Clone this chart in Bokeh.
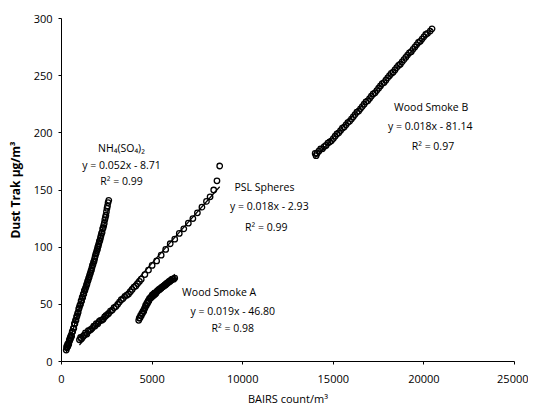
import numpy as np
from bokeh.plotting import figure
from bokeh.models import Range1d, Label, FixedTicker
from bokeh.embed import file_html
from bokeh.resources import INLINE

# ---- data ----
nh4_x = [260, 300, 350, 400, 450, 500, 560, 620, 680, 740, 800, 860, 920, 980, 1050, 1110, 1170,
         1230, 1290, 1350, 1410, 1470, 1530, 1590, 1650, 1710, 1770, 1830, 1890, 1950, 2000, 2060,
         2120, 2180, 2240, 2300, 2360, 2420, 2480, 2540, 2610,
         280, 330, 380, 430, 480, 530, 590, 650, 710, 770, 830, 890, 950, 1010, 1080, 1140, 1200,
         1260, 1320, 1380, 1440, 1500, 1560, 1620, 1680, 1740, 1800, 1860, 1920, 1980, 2030, 2090,
         2150, 2210, 2270, 2330, 2390, 2450, 2510, 2570]
nh4_y = [10, 12, 13, 15, 18, 20, 22, 26, 29, 33, 36, 40, 43, 47, 50, 53, 56,
         59, 62, 65, 68, 71, 74, 77, 80, 84, 87, 90, 94, 97, 100, 103,
         106, 110, 113, 117, 121, 126, 131, 136, 141,
         13, 15, 16, 19, 21, 23, 26, 29, 33, 36, 39, 42, 46, 49, 53, 56, 59,
         62, 64, 67, 70, 73, 76, 79, 82, 85, 88, 92, 95, 98, 101, 105,
         108, 112, 116, 119, 124, 128, 134, 139]

psl_x = [990, 1100, 1250, 1400, 1550, 1700, 1850, 2000, 2150, 2300, 2450, 2600, 2800, 3000, 3200,
         3400, 3600, 3800, 4000, 4200, 4400, 4600, 4800, 5000, 5250, 5500, 5750, 6000, 6250, 6500,
         6750, 7000, 7250, 7500, 7750, 8000, 8200, 8400, 8580, 8730,
         1050, 1180, 1320, 1480, 1620, 1780, 1920, 2080, 2230, 2380, 2530, 2700, 2900, 3100, 3300,
         3500, 3700, 3900, 4100, 4300]
psl_y = [19, 20, 23, 24, 27, 29, 31, 33, 36, 37, 40, 42, 45, 48, 52,
         55, 58, 61, 65, 68, 72, 76, 80, 84, 88, 93, 98, 103, 107, 112,
         116, 121, 125, 130, 135, 140, 144, 150, 158, 171,
         21, 22, 25, 27, 28, 31, 33, 35, 36, 39, 41, 44, 47, 50, 54,
         57, 59, 63, 66, 70]

wsa_x = [4260, 4330, 4400, 4470, 4540, 4610, 4680, 4750, 4820, 4890, 4960, 5030, 5100, 5180,
         5260, 5340, 5420, 5500, 5580, 5660, 5740, 5820, 5900, 5980, 6060, 6140, 6250,
         4290, 4360, 4430, 4500, 4570, 4640, 4710, 4780, 4850, 4920, 5000, 5070, 5140, 5220,
         5300, 5380, 5460, 5540, 5620, 5700, 5780, 5860, 5940, 6020, 6100, 6190]
wsa_y = [36, 38, 40, 42, 44, 47, 49, 51, 53, 55, 56, 57, 58, 59,
         61, 62, 63, 64, 65, 66, 67, 68, 69, 70, 71, 72, 73,
         38, 40, 42, 44, 46, 49, 51, 53, 55, 56, 58, 59, 60, 60,
         62, 63, 64, 65, 66, 67, 68, 69, 70, 71, 72, 72]

wsb_x = [14000, 14100, 14200, 14400, 14600, 14800, 15000, 15200, 15400, 15600, 15800, 16000,
         16200, 16400, 16600, 16800, 17000, 17200, 17400, 17600, 17800, 18000, 18200, 18400,
         18600, 18800, 19000, 19200, 19400, 19600, 19800, 20000, 20200, 20450,
         14050, 14300, 14500, 14700, 14900, 15100, 15300, 15500, 15700, 15900, 16100, 16300,
         16500, 16700, 16900, 17100, 17300, 17500, 17700, 17900, 18100, 18300, 18500, 18700,
         18900, 19100, 19300, 19500, 19700, 19900, 20100, 20350]
wsb_y = [182, 182, 184, 186, 189, 192, 195, 199, 202, 205, 209, 212,
         216, 219, 223, 227, 230, 234, 237, 241, 244, 248, 252, 255,
         259, 262, 266, 270, 273, 277, 280, 284, 287, 291,
         180, 186, 188, 191, 193, 197, 200, 204, 207, 210, 214, 218,
         221, 225, 228, 232, 235, 239, 243, 246, 250, 253, 257, 260,
         264, 268, 271, 275, 279, 282, 286, 289]

series_names = ["NH₄(SO₄)₂", "PSL Spheres", "Wood Smoke A", "Wood Smoke B"]
equations = ["y = 0.052x - 8.71", "y = 0.018x - 2.93", "y = 0.019x - 46.80", "y = 0.018x - 81.14"]
r2_texts = ["R² = 0.99", "R² = 0.99", "R² = 0.98", "R² = 0.97"]

x_ticks = [0, 5000, 10000, 15000, 20000, 25000]
y_ticks = [0, 50, 100, 150, 200, 250, 300]

# ---- figure ----
FONT = "Open Sans"
p = figure(width=528, height=412, output_backend="svg", toolbar_location=None,
           x_range=Range1d(0, 25000), y_range=Range1d(0, 300),
           min_border_left=61, min_border_right=14, min_border_top=18, min_border_bottom=51)
p.outline_line_color = None
p.grid.visible = False
p.background_fill_color = "white"

for ax in (p.xaxis[0], p.yaxis[0]):
    ax.axis_line_color = "black"
    ax.axis_line_width = 1
    ax.major_tick_line_color = "black"
    ax.major_tick_out = 3
    ax.major_tick_in = 0
    ax.minor_tick_line_color = None
    ax.major_label_text_font = FONT
    ax.major_label_text_font_size = "11px"
    ax.major_label_text_color = "black"
    ax.axis_label_text_font = FONT
    ax.axis_label_text_color = "black"

p.xaxis.ticker = FixedTicker(ticks=x_ticks)
p.yaxis.ticker = FixedTicker(ticks=y_ticks)
p.xaxis.major_label_standoff = 10
p.yaxis.major_label_standoff = 6
p.xaxis.axis_label = "BAIRS count/m³"
p.xaxis.axis_label_text_font_style = "normal"
p.xaxis.axis_label_text_font_size = "11px"
p.xaxis.axis_label_standoff = 5
p.yaxis.axis_label = "Dust Trak µg/m³"
p.yaxis.axis_label_text_font_style = "bold"
p.yaxis.axis_label_text_font_size = "12px"
p.yaxis.axis_label_standoff = 7

all_series = [(nh4_x, nh4_y), (psl_x, psl_y), (wsa_x, wsa_y), (wsb_x, wsb_y)]
for xs, ys in all_series:
    xs_a = np.array(xs, dtype=float)
    ys_a = np.array(ys, dtype=float)
    m, b = np.polyfit(xs_a, ys_a, 1)
    lx = [xs_a.min(), xs_a.max()]
    p.line(lx, [m * lx[0] + b, m * lx[1] + b], line_color="black", line_width=1.2)
    p.scatter(xs, ys, marker="circle", size=5.5, fill_color="white", fill_alpha=0.0,
              line_color="black", line_width=1.3)

# annotation positions (data units): name, equation, R^2 rows
ann_x = [[3310, 3310, 3310], [11200, 11470, 11300], [8700, 9450, 9450], [20400, 20350, 20500]]
ann_y = [[187, 171.5, 158], [152.5, 136, 117.5], [60.6, 44.6, 28.9], [223, 205.6, 188.4]]
for i in range(4):
    texts = [series_names[i], equations[i], r2_texts[i]]
    for j in range(3):
        p.add_layout(Label(x=ann_x[i][j], y=ann_y[i][j], text=texts[j], text_align="center",
                           text_baseline="middle", text_font=FONT, text_font_size="10.5px",
                           text_color="black"))

open("out.html", "w").write(file_html(p, INLINE))
